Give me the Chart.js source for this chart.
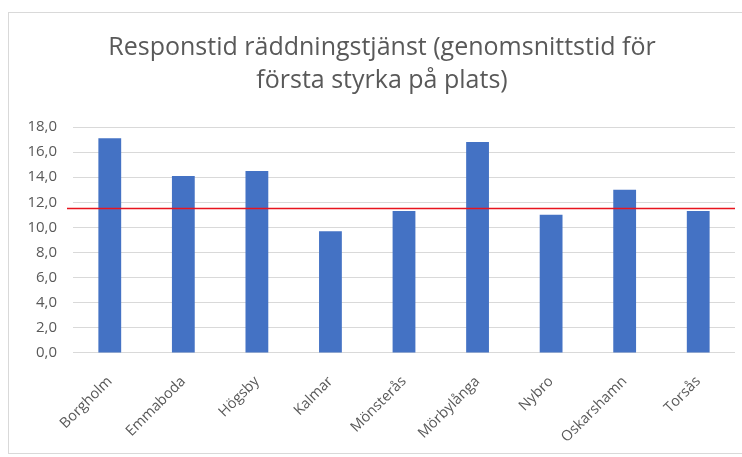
<!DOCTYPE html>
<html>
<head>
<meta charset="utf-8">
<script src="https://cdn.jsdelivr.net/npm/chart.js@4"></script>
<style>
    body { margin: 0; background: #fff; overflow: hidden; }
    #box {
        position: absolute; left: 8px; top: 12px;
        width: 760px; height: 442px;
        border: 1px solid #d9d9d9; box-sizing: border-box;
    }
    #wrap { position: absolute; left: 0; top: 0; width: 746px; height: 446px; }
</style>
</head>
<body>
<div id="box"><div id="wrap"><canvas id="responseChart"></canvas></div></div>
<script>
// Data
const municipalities = ['Borgholm', 'Emmaboda', 'Högsby', 'Kalmar', 'Mönsterås', 'Mörbylånga', 'Nybro', 'Oskarshamn', 'Torsås'];
const responseTimes = [17.1, 14.1, 14.5, 9.7, 11.3, 16.8, 11.0, 13.0, 11.3];
const averageTime = 11.5;
const titleLines = ['Responstid räddningstjänst (genomsnittstid för', 'första styrka på plats)'];

// Röd medellinje
const averageLine = {
    id: 'averageLine',
    afterDatasetsDraw(chart) {
        const { ctx, chartArea, scales } = chart;
        const y = scales.y.getPixelForValue(averageTime);
        ctx.save();
        ctx.strokeStyle = '#e8141e';
        ctx.lineWidth = 1.5;
        ctx.beginPath();
        ctx.moveTo(chartArea.left - 6, y);
        ctx.lineTo(chartArea.right, y);
        ctx.stroke();
        ctx.restore();
    }
};

const ctx = document.getElementById('responseChart').getContext('2d');

const chart = new Chart(ctx, {
    type: 'bar',
    data: {
        labels: municipalities,
        datasets: [{
            label: 'Responstid',
            data: responseTimes,
            backgroundColor: '#4472c4',
            categoryPercentage: 1,
            barPercentage: 0.31
        }]
    },
    options: {
        responsive: true,
        maintainAspectRatio: false,
        animation: false,
        layout: { padding: { left: 20, right: 20, top: 0, bottom: 1 } },
        plugins: {
            legend: { display: false },
            tooltip: { enabled: false },
            title: {
                display: true,
                text: titleLines,
                color: '#595959',
                font: { family: 'Open Sans', size: 25, weight: 'normal', lineHeight: 1.32 },
                padding: { top: 18, bottom: 30 }
            }
        },
        scales: {
            x: {
                grid: { display: false },
                border: { display: false },
                ticks: {
                    color: '#595959',
                    font: { family: 'Open Sans', size: 14.5 },
                    maxRotation: 45,
                    minRotation: 45,
                    padding: 12
                }
            },
            y: {
                min: 0,
                max: 18,
                afterFit: scale => { scale.width = 44; },
                grid: { color: '#d9d9d9', drawTicks: false },
                border: { display: false },
                ticks: {
                    stepSize: 2,
                    color: '#595959',
                    font: { family: 'Open Sans', size: 15 },
                    padding: 16,
                    callback: v => v.toFixed(1).replace('.', ',')
                }
            }
        }
    },
    plugins: [averageLine]
});
</script>
</body>
</html>
